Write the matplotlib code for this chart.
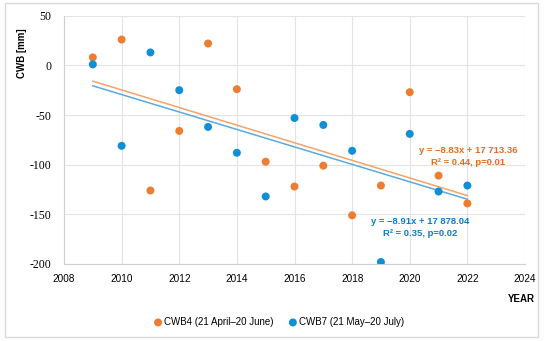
import numpy as np
import matplotlib
matplotlib.use("Agg")
import matplotlib.pyplot as plt
from matplotlib.patches import Rectangle

years = [2009, 2010, 2011, 2012, 2013, 2014, 2015, 2016, 2017, 2018, 2019, 2020, 2021, 2022]
cwb4 = [8, 26, -126, -66, 22, -24, -97, -122, -101, -151, -121, -27, -111, -139]
cwb7 = [1, -81, 13, -25, -62, -88, -132, -53, -60, -86, -198, -69, -127, -121]
label4 = "CWB4 (21 April\u201320 June)"
label7 = "CWB7 (21 May\u201320 July)"
eq4 = ["y = \u22128.83x + 17 713.36", "R\u00b2 = 0.44, p=0.01"]
eq7 = ["y = \u22128.91x + 17 878.04", "R\u00b2 = 0.35, p=0.02"]
xticks = [2008, 2010, 2012, 2014, 2016, 2018, 2020, 2022, 2024]
yticks = [50, 0, -50, -100, -150, -200]

c4 = "#ED7D31"
c7 = "#0F8FD8"
c4line = "#F4A36A"
c7line = "#5AAAE0"
c4txt = "#E46C1E"
c7txt = "#0A7FC8"

fig = plt.figure(figsize=(5.5, 3.41), dpi=100)
fig.patches.append(Rectangle((5/550, 1-337/341), 533/550, 334/341, transform=fig.transFigure,
                             fill=False, edgecolor="#D9D9D9", linewidth=1.0))
ax = fig.add_axes([64/550, 1-264/341, (525-64)/550, (264-15.7)/341])

x = np.array(years, dtype=float)
for vals, lc in [(cwb4, c4line), (cwb7, c7line)]:
    p = np.polyfit(x, np.array(vals, dtype=float), 1)
    xx = np.array([years[0], years[-1]], dtype=float)
    ax.plot(xx, np.polyval(p, xx), color=lc, lw=1.1, zorder=2)

ax.scatter(years, cwb4, s=33, color=c4, zorder=3, label=label4, edgecolors="none")
ax.scatter(years, cwb7, s=33, color=c7, zorder=3, label=label7, edgecolors="none")

ax.set_xlim(2008, 2024)
ax.set_ylim(-200, 50)
ax.set_xticks(xticks)
ax.set_yticks(yticks)
ax.set_xticklabels([str(t) for t in xticks], fontsize=7.2, family="Liberation Sans")
ax.set_yticklabels([f"-{abs(t)}" if t < 0 else str(t) for t in yticks], fontsize=8.5, family="Liberation Serif")
ax.tick_params(length=0, pad=7)
ax.tick_params(axis="y", pad=9)
ax.grid(True, color="#E3E3E3", lw=0.8)
ax.set_axisbelow(True)
for s in ["top", "right"]:
    ax.spines[s].set_visible(False)
for s in ["left", "bottom"]:
    ax.spines[s].set_color("#D0D0D0")
    ax.spines[s].set_linewidth(0.8)

fig.text(22/550, 1-53/341, "CWB [mm]", fontsize=7, fontweight="bold", family="Liberation Sans",
         rotation=90, ha="center", va="center")
fig.text(521/550, 1-299/341, "YEAR", fontsize=7, fontweight="bold", family="Liberation Sans",
         ha="center", va="center")

fig.text(468/550, 1-150/341, eq4[0], fontsize=6.8, fontweight="bold", color=c4txt,
         family="Liberation Sans", ha="center", va="center")
fig.text(468/550, 1-162.5/341, eq4[1], fontsize=6.8, fontweight="bold", color=c4txt,
         family="Liberation Sans", ha="center", va="center")
fig.text(420/550, 1-221/341, eq7[0], fontsize=6.8, fontweight="bold", color=c7txt,
         family="Liberation Sans", ha="center", va="center")
fig.text(420/550, 1-233.5/341, eq7[1], fontsize=6.8, fontweight="bold", color=c7txt,
         family="Liberation Sans", ha="center", va="center")

fig.legend(loc="center", bbox_to_anchor=(279/550, 1-322/341), ncol=2, frameon=False,
           prop={"family": "Liberation Sans", "size": 7}, handletextpad=0.2,
           handlelength=0.8, columnspacing=1.6, markerscale=1.0)

fig.savefig("out.png", dpi=100)
